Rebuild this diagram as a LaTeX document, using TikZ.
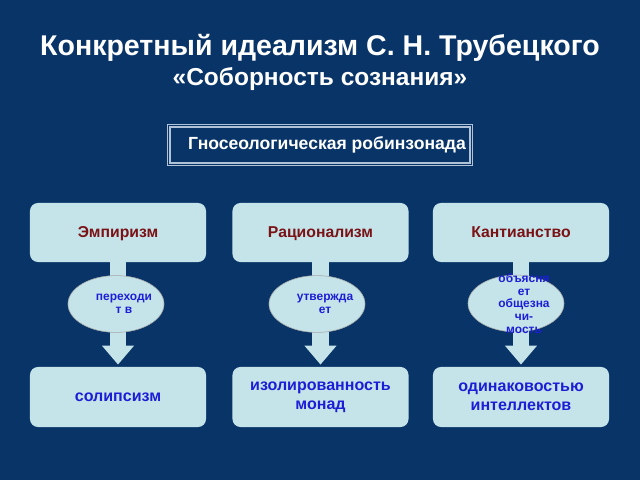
\documentclass[tikz,border=0pt]{standalone}
\usepackage{fontspec}
\setmainfont{Liberation Sans}
\usepackage{tikz}
\usetikzlibrary{shapes.geometric,arrows.meta}

\begin{document}
\begin{tikzpicture}[x=0.025cm,y=-0.025cm,
    topbox/.style={draw=none,fill=boxcol,rounded corners=0.2cm,minimum width=4.4cm,minimum height=1.475cm,text height=1.6ex,text depth=0.3ex,font=\bfseries\fontsize{11.2}{13}\selectfont,text=redtxt},
    botbox/.style={draw=none,fill=boxcol,rounded corners=0.2cm,minimum width=4.4cm,minimum height=1.5cm,font=\bfseries\fontsize{11.4}{13.5}\selectfont,text=bluetxt,align=center},
    verb/.style={ellipse,draw=gray!70,fill=boxcol,minimum width=2.4cm,minimum height=1.42cm,inner sep=0pt},
    verbtxt/.style={font=\bfseries\fontsize{8.5}{9.1}\selectfont,text=bluetxt,align=center,xshift=0.2cm},
    flow/.style={draw=boxcol,line width=12pt,-{Triangle[width=22pt,length=13.5pt]},shorten >=1.5pt}]
    \definecolor{navy}{RGB}{9,52,104}
    \definecolor{boxcol}{RGB}{196,228,233}
    \definecolor{redtxt}{RGB}{122,18,22}
    \definecolor{bluetxt}{RGB}{28,30,215}
    \definecolor{edgecol}{RGB}{178,194,214}
    \useasboundingbox (0,0) rectangle (640,480);
    \fill[navy] (0,0) rectangle (640,480);
    %title
    \node[text=white,font=\bfseries\fontsize{20.3}{23}\selectfont] (title) at (320,48) {Конкретный идеализм С. Н. Трубецкого};
    \node[text=white,font=\bfseries\fontsize{17.4}{20}\selectfont] (subtitle) at (320,79) {«Соборность сознания»};
    \node[draw=edgecol,line width=1.1pt,double=navy,double distance=0.7pt,minimum width=7.55cm,minimum height=0.97cm,text=white,font=\bfseries\fontsize{12.5}{14}\selectfont] (gnos) at (320,145) {\hspace*{10pt}Гносеологическая робинзонада};
    %boxes
    \node[topbox] (emp) at (118,232.5) {Эмпиризм};
    \node[topbox] (rat) at (320.5,232.5) {Рационализм};
    \node[topbox] (kant) at (521,232.5) {Кантианство};
    \node[botbox] (sol) at (118,397) {солипсизм};
    \node[botbox] (mon) at (320.5,397) {изолированность\\монад};
    \node[botbox] (intel) at (521,397) {одинаковостью\\интеллектов};
    %arrows
    \draw[flow] (emp) -- (sol);
    \draw[flow] (rat) -- (mon);
    \draw[flow] (kant) -- (intel);
    %verbs
    \node[verb,label={[verbtxt]center:переходи\\т в}] (v1) at (116,304) {};
    \node[verb,label={[verbtxt]center:утвержда\\ет}] (v2) at (317,304) {};
    \node[verb,label={[verbtxt]center:объясня\\ет\\общезна\\чи-\\мость}] (v3) at (516,303.5) {};
\end{tikzpicture}
\end{document}
